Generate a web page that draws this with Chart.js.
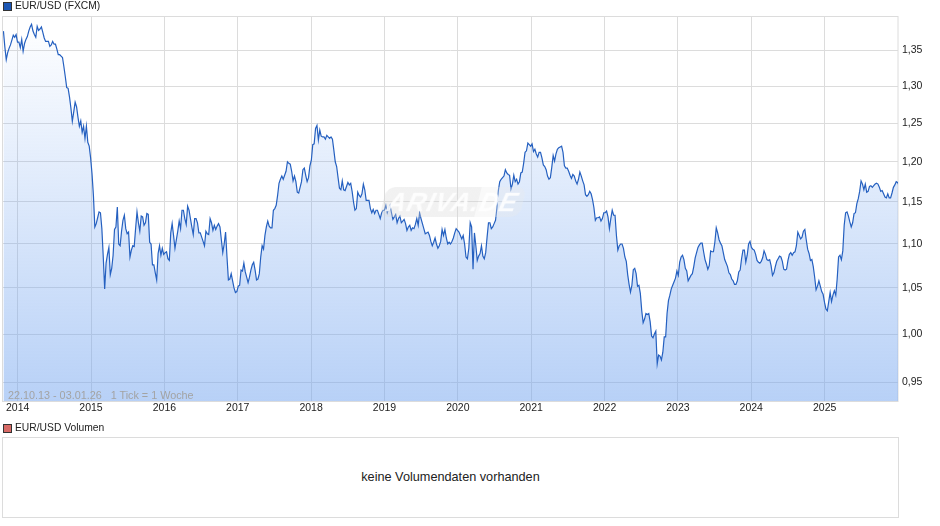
<!DOCTYPE html>
<html>
<head>
<meta charset="utf-8">
<title>EUR/USD</title>
<script src="https://cdn.jsdelivr.net/npm/chart.js@4"></script>
<style>
  html, body { margin: 0; padding: 0; background: #fff; }
  body { width: 940px; height: 526px; position: relative; overflow: hidden; font: 10.3px "Liberation Sans", Arial, sans-serif; color: #222; }
  canvas { position: absolute; left: 0; top: 0; }
  .txt { position: absolute; white-space: pre; line-height: 14px; }
  .swatch { position: absolute; width: 7px; height: 7px; border: 1px solid #333; }
  #volBox { position: absolute; left: 2px; top: 437px; width: 895px; height: 79px; border: 1px solid #dcdcdc; text-align: center; line-height: 79px; font-size: 12.7px; }
  #mark { position: absolute; left: 383px; top: 187px; width: 140px; height: 30px; border-radius: 9px; transform: skewX(-14deg);
          background: linear-gradient(to right, rgba(215,215,215,.34) 68%, rgba(235,235,235,.3) 68%); color: rgba(255,255,255,.85);
          font: italic bold 26px "Liberation Sans", Arial, sans-serif; line-height: 30px; text-align: center; letter-spacing: 1px; }
</style>
</head>
<body>
<canvas id="kurs" width="940" height="420"></canvas>
<div id="mark">ARIVA.DE</div>
<div class="swatch" style="left:3px;top:2px;background:#1c57b5"></div>
<div class="txt" style="left:15px;top:-1px">EUR/USD (FXCM)</div>
<div class="txt" style="left:8px;top:388px;color:#a3a3a3;font-size:10.8px">22.10.13 - 03.01.26   1 Tick = 1 Woche</div>
<div class="swatch" style="left:3px;top:424px;background:#d86a66"></div>
<div class="txt" style="left:15px;top:421px">EUR/USD Volumen</div>
<div id="volBox">keine Volumendaten vorhanden</div>
<script>
// Wochenschlusskurse (1 Tick = 1 Woche, ab 22.10.13)
const START_YEAR = 2013.806;
const WEEK = 7 / 365.25;
const rates = [
  1.378,1.355,1.337,1.347,1.353,1.358,1.365,1.372,1.369,1.373,1.362,1.362,1.354,1.366,1.349,1.36,1.366,1.37,1.378,1.384,
  1.388,1.378,1.373,1.369,1.385,1.379,1.381,1.384,1.376,1.368,1.363,1.363,1.363,1.356,1.358,1.363,1.359,1.359,1.352,1.344,
  1.344,1.342,1.34,1.327,1.313,1.298,1.297,1.285,1.27,1.2525,1.265,1.278,1.272,1.258,1.246,1.253,1.238,1.246,1.23,1.246,
  1.225,1.22,1.205,1.185,1.158,1.12,1.124,1.131,1.138,1.137,1.118,1.085,1.049,1.078,1.088,1.096,1.065,1.072,1.087,1.117,
  1.12,1.144,1.10,1.098,1.115,1.128,1.134,1.118,1.112,1.114,1.085,1.093,1.098,1.097,1.118,1.138,1.125,1.115,1.133,1.132,
  1.122,1.125,1.136,1.135,1.102,1.10,1.076,1.076,1.067,1.059,1.089,1.098,1.087,1.095,1.088,1.09,1.091,1.083,1.081,1.113,
  1.124,1.11,1.095,1.105,1.115,1.127,1.118,1.14,1.14,1.13,1.123,1.145,1.14,1.13,1.12,1.111,1.13,1.13,1.125,1.113,
  1.113,1.108,1.103,1.098,1.115,1.112,1.111,1.13,1.125,1.116,1.122,1.117,1.121,1.124,1.12,1.105,1.09,1.10,1.114,1.085,
  1.059,1.06,1.066,1.058,1.05,1.045,1.046,1.052,1.053,1.07,1.069,1.078,1.068,1.062,1.056,1.062,1.07,1.076,1.079,1.07,
  1.059,1.06,1.066,1.085,1.098,1.094,1.11,1.12,1.127,1.121,1.119,1.119,1.14,1.142,1.146,1.158,1.173,1.178,1.182,1.178,
  1.183,1.188,1.20,1.198,1.197,1.188,1.176,1.182,1.175,1.162,1.161,1.168,1.175,1.19,1.192,1.183,1.175,1.18,1.195,1.202,
  1.222,1.223,1.243,1.247,1.228,1.241,1.233,1.232,1.232,1.229,1.234,1.232,1.23,1.232,1.229,1.215,1.20,1.194,1.18,1.167,
  1.165,1.176,1.165,1.164,1.169,1.174,1.171,1.173,1.163,1.15,1.14,1.142,1.162,1.158,1.156,1.16,1.172,1.165,1.152,1.152,
  1.152,1.142,1.137,1.141,1.136,1.14,1.14,1.135,1.13,1.137,1.14,1.14,1.146,1.137,1.142,1.146,1.137,1.129,1.132,1.135,
  1.125,1.13,1.133,1.125,1.127,1.129,1.124,1.116,1.12,1.122,1.116,1.119,1.118,1.123,1.13,1.122,1.137,1.13,1.124,1.118,
  1.112,1.113,1.114,1.11,1.103,1.098,1.102,1.107,1.10,1.095,1.098,1.103,1.117,1.11,1.117,1.107,1.10,1.102,1.10,1.103,
  1.107,1.113,1.118,1.116,1.114,1.11,1.106,1.11,1.10,1.085,1.083,1.095,1.125,1.12,1.071,1.113,1.098,1.081,1.086,1.089,
  1.098,1.086,1.083,1.09,1.108,1.125,1.125,1.118,1.12,1.124,1.128,1.143,1.164,1.175,1.178,1.18,1.182,1.19,1.186,1.184,
  1.183,1.166,1.172,1.183,1.175,1.178,1.172,1.175,1.186,1.187,1.198,1.212,1.214,1.224,1.222,1.22,1.223,1.213,1.216,1.21,
  1.206,1.212,1.212,1.205,1.196,1.194,1.19,1.182,1.178,1.18,1.193,1.208,1.201,1.21,1.216,1.218,1.219,1.22,1.212,1.195,
  1.192,1.192,1.188,1.183,1.179,1.184,1.182,1.176,1.172,1.178,1.187,1.182,1.176,1.171,1.159,1.157,1.159,1.163,1.16,1.153,
  1.143,1.128,1.131,1.131,1.132,1.127,1.13,1.137,1.137,1.139,1.132,1.118,1.13,1.14,1.134,1.134,1.11,1.093,1.098,1.10,
  1.10,1.095,1.085,1.08,1.065,1.054,1.0455,1.053,1.0705,1.072,1.066,1.052,1.053,1.044,1.025,1.012,1.016,1.022,1.021,1.022,
  1.013,0.998,0.996,1.00,1.003,0.969,0.978,0.977,0.973,0.981,0.997,0.997,1.022,1.036,1.042,1.049,1.053,1.057,1.061,1.069,
  1.064,1.079,1.085,1.087,1.082,1.072,1.069,1.058,1.061,1.064,1.066,1.074,1.084,1.09,1.096,1.099,1.101,1.101,1.091,1.082,
  1.077,1.071,1.075,1.092,1.091,1.091,1.102,1.119,1.113,1.105,1.101,1.098,1.09,1.082,1.078,1.074,1.067,1.065,1.06,1.058,
  1.054,1.054,1.058,1.068,1.07,1.083,1.093,1.093,1.079,1.087,1.10,1.103,1.096,1.094,1.093,1.088,1.081,1.079,1.078,1.08,
  1.084,1.092,1.088,1.082,1.081,1.082,1.075,1.064,1.067,1.074,1.08,1.083,1.086,1.085,1.08,1.071,1.07,1.071,1.081,1.088,
  1.09,1.087,1.09,1.091,1.098,1.114,1.11,1.106,1.108,1.115,1.117,1.105,1.094,1.089,1.081,1.082,1.074,1.062,1.048,1.052,
  1.058,1.052,1.046,1.043,1.034,1.027,1.025,1.035,1.045,1.035,1.042,1.047,1.042,1.06,1.085,1.087,1.082,1.092,1.122,1.137,
  1.138,1.133,1.126,1.12,1.125,1.136,1.137,1.148,1.154,1.163,1.176,1.172,1.165,1.172,1.162,1.163,1.169,1.17,1.168,1.17,
  1.172,1.173,1.172,1.168,1.163,1.164,1.16,1.156,1.155,1.16,1.155,1.155,1.161,1.168,1.171,1.175,1.174,1.17
];
const yearTicks = [2014,2015,2016,2017,2018,2019,2020,2021,2022,2023,2024,2025];
const rateTicks = [0.95,1.00,1.05,1.10,1.15,1.20,1.25,1.30,1.35];

const GRID = "#dcdcdc";

// Rahmen um den Plotbereich
const frame = {
  id: "frame",
  beforeDatasetsDraw(chart) {
    const a = chart.chartArea, c = chart.ctx;
    c.save();
    c.strokeStyle = GRID;
    c.lineWidth = 1;
    c.strokeRect(a.left - 0.5, a.top + 0.5, a.right - a.left + 0.5, a.bottom - a.top);
    c.restore();
  }
};

function areaFill(context) {
  const a = context.chart.chartArea;
  if (!a) return "rgba(113,163,239,.3)";
  const g = context.chart.ctx.createLinearGradient(0, a.top, 0, a.bottom);
  g.addColorStop(0, "rgba(113,163,239,0)");
  g.addColorStop(1, "rgba(113,163,239,.5)");
  return g;
}

new Chart(document.getElementById("kurs"), {
  type: "line",
  data: {
    datasets: [{
      data: rates.map((r, i) => ({ x: START_YEAR + i * WEEK, y: r })),
      borderColor: "#2560c0",
      borderWidth: 1.2,
      pointRadius: 0,
      tension: 0,
      fill: "start",
      backgroundColor: areaFill
    }]
  },
  plugins: [frame],
  options: {
    responsive: false,
    animation: false,
    layout: { padding: { left: 3, top: 16, right: 0, bottom: 0 } },
    plugins: { legend: { display: false }, tooltip: { enabled: false } },
    scales: {
      x: {
        type: "linear",
        min: 2013.80,
        max: 2026.0,
        afterBuildTicks: s => { s.ticks = yearTicks.map(v => ({ value: v })); },
        afterFit: s => { s.height = 19; },
        grid: { color: GRID, drawTicks: false },
        border: { display: false },
        ticks: {
          autoSkip: false, maxRotation: 0, padding: 1, color: "#222",
          font: { family: "'Liberation Sans', Arial, sans-serif", size: 10.5 },
          callback: v => String(v)
        }
      },
      y: {
        type: "logarithmic",
        position: "right",
        bounds: "data", // sonst rundet Chart.js min auf 0.93
        min: 0.9316,
        max: 1.4002,
        afterBuildTicks: s => { s.ticks = rateTicks.map(v => ({ value: v })); },
        afterFit: s => { s.width = 42; },
        grid: { color: GRID, drawTicks: false },
        border: { display: false },
        ticks: {
          autoSkip: false, padding: 4, color: "#222",
          font: { family: "'Liberation Sans', Arial, sans-serif", size: 10.5 },
          callback: v => v.toFixed(2).replace(".", ",")
        }
      }
    }
  }
});
</script>
</body>
</html>
